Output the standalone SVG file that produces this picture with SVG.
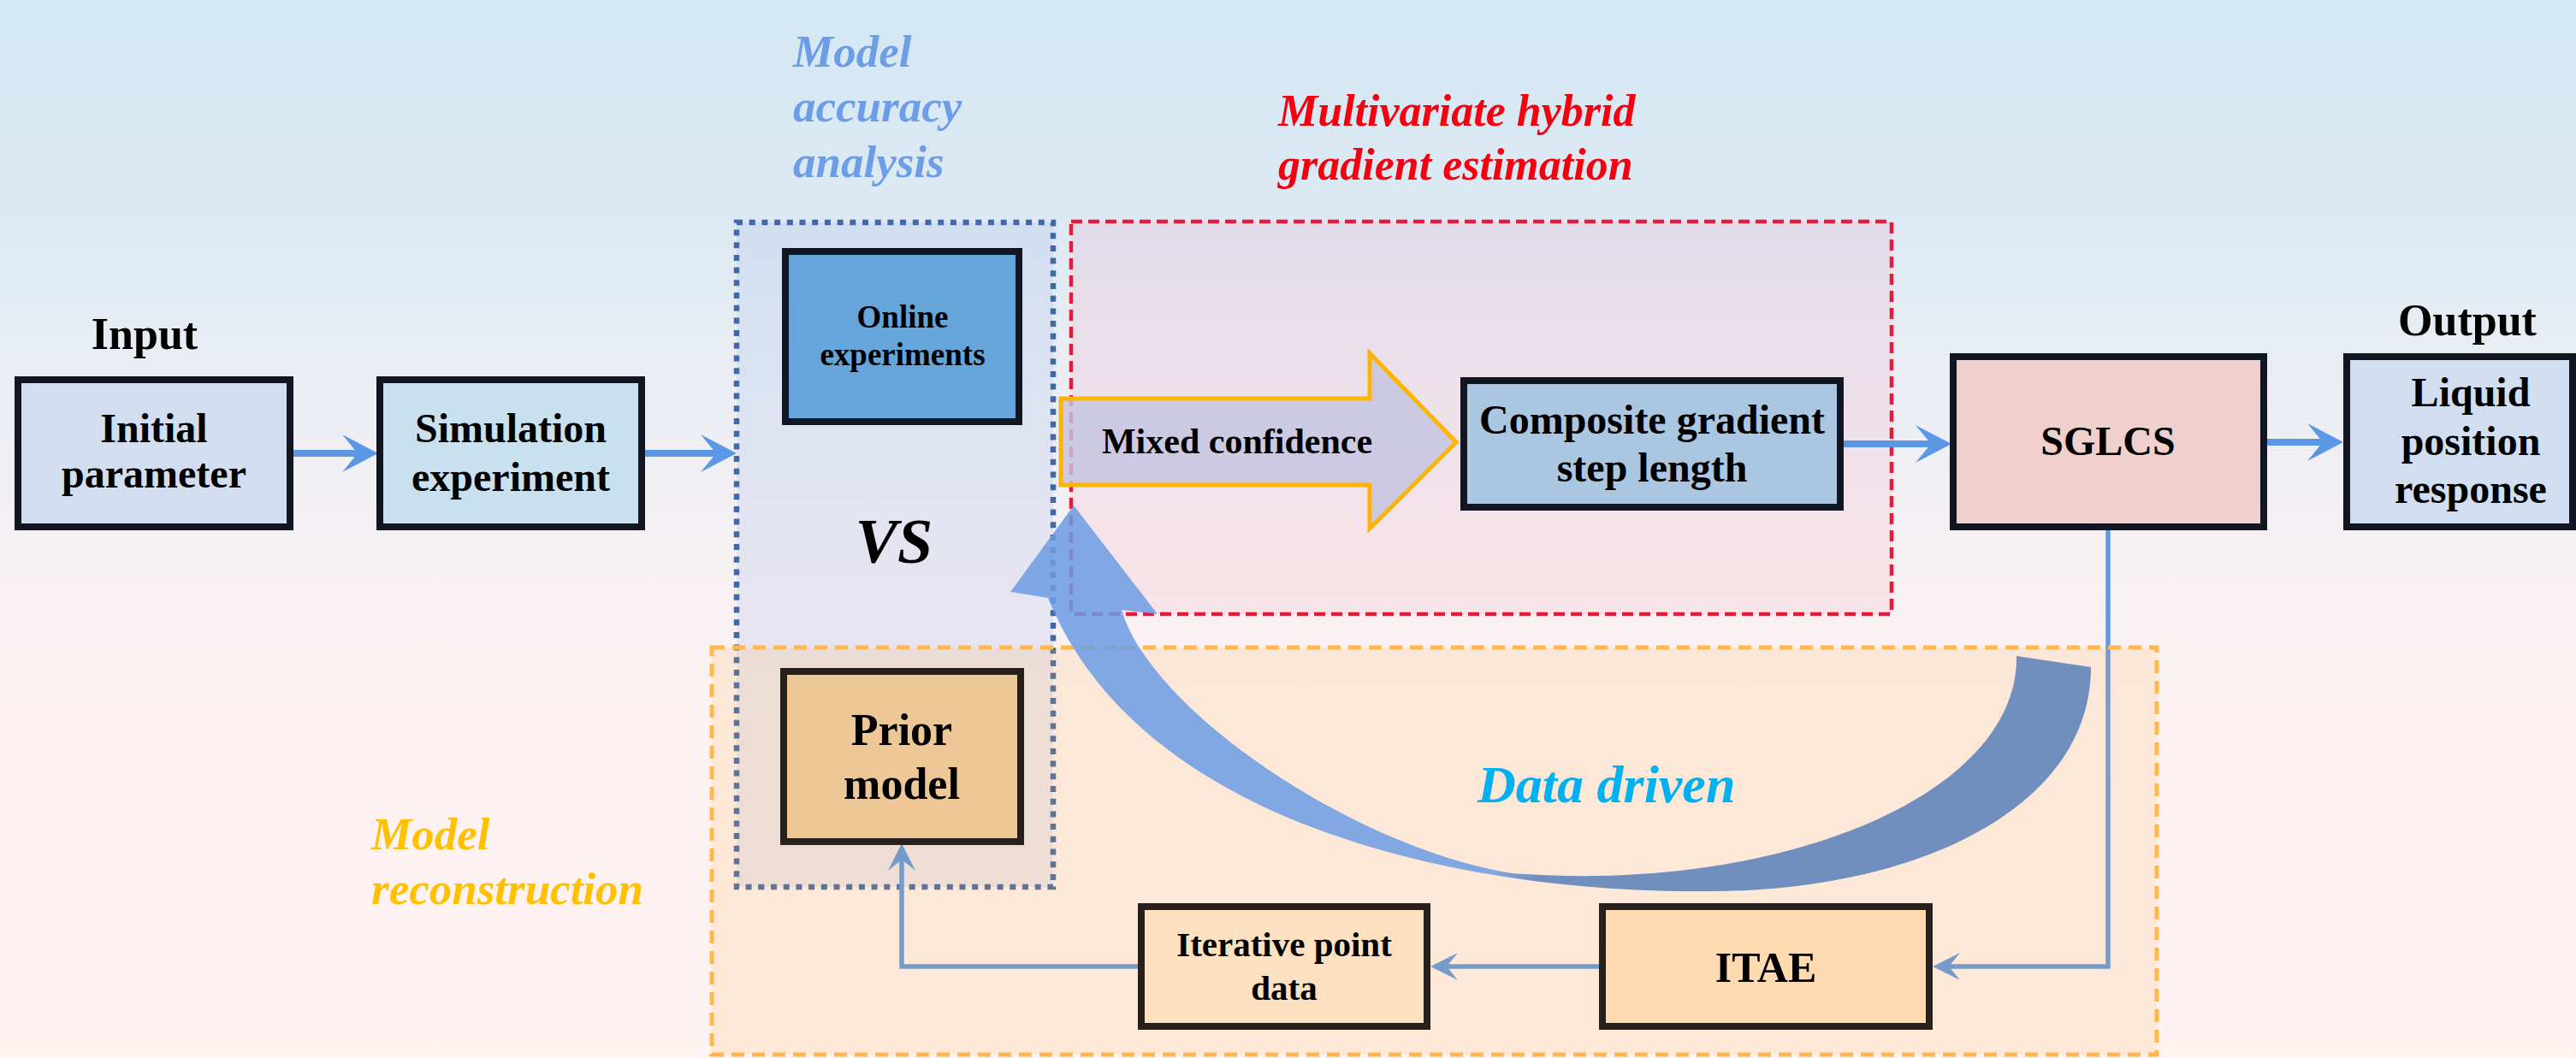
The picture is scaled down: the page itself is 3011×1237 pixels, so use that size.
<svg xmlns="http://www.w3.org/2000/svg" width="3011" height="1237" viewBox="0 0 3011 1237">
<defs>
<linearGradient id="bg" x1="0" y1="0" x2="0" y2="1">
<stop offset="0" stop-color="#d3e8f4"/>
<stop offset="0.2" stop-color="#dce9f2"/>
<stop offset="0.33" stop-color="#e8edf3"/>
<stop offset="0.5" stop-color="#f4f0f3"/>
<stop offset="0.7" stop-color="#fdf2f1"/>
<stop offset="1" stop-color="#fef3f1"/>
</linearGradient>
<linearGradient id="curveGrad" gradientUnits="userSpaceOnUse" x1="1745" y1="0" x2="1795" y2="0">
<stop offset="0" stop-color="#6c9ce4"/>
<stop offset="1" stop-color="#577fb9"/>
</linearGradient>
<marker id="bigHead" markerUnits="userSpaceOnUse" markerWidth="44" markerHeight="44" refX="20" refY="22" orient="auto" overflow="visible">
<path d="M0,0 L42,22 L0,44 L18,22 Z" fill="#5b97e5"/>
</marker>
<marker id="smallHead" markerUnits="userSpaceOnUse" markerWidth="34" markerHeight="34" refX="16" refY="16" orient="auto" overflow="visible">
<path d="M0,0 L32,16 L0,32 L13,16 Z" fill="#5d98e3"/>
</marker>
<style>
text { font-family: "Liberation Serif", "Times New Roman", serif; font-weight: bold; }
.lbl { text-anchor: middle; fill: #000; }
.it { font-style: italic; }
.box { stroke: #121622; stroke-width: 8; }
.boxb { stroke: #28201a; stroke-width: 8; }
.big { fill: none; stroke: #5b97e5; stroke-width: 8; marker-end: url(#bigHead); }
.thin { fill: none; stroke: #5d98e3; stroke-width: 5.5; marker-end: url(#smallHead); }
</style>
</defs>

<rect x="0" y="0" width="3011" height="1237" fill="url(#bg)"/>

<g id="region-model-accuracy">
<rect x="861" y="260" width="370" height="777" fill="rgb(150,170,230)" fill-opacity="0.17" stroke="#4169a8" stroke-width="6.5" stroke-dasharray="7 7.7"/>
</g>

<g id="region-gradient-estimation">
<rect x="1252" y="259" width="959" height="459" fill="rgb(255,100,130)" fill-opacity="0.09" stroke="#e41c3c" stroke-width="4.5" stroke-dasharray="13 7"/>
</g>

<g id="connectors">
<path class="big" d="M343,530 H420"/>
<path class="big" d="M754,530 H839"/>
<path class="big" d="M2155,519 H2259"/>
<path class="big" d="M2650,517 H2717"/>
<path class="thin" d="M2464,620 V1130 H2275"/>
<path class="thin" d="M1869,1130 H1688"/>
<path class="thin" d="M1330,1130 H1054 V1002"/>
</g>

<g id="region-model-reconstruction">
<rect x="832" y="757" width="1689" height="476" fill="rgb(255,175,70)" fill-opacity="0.15" stroke="#ffb84f" stroke-width="5" stroke-dasharray="15 9"/>
</g>

<g id="mixed-confidence">
<path d="M1240,466 L1601,466 L1601,413 L1702,517 L1601,618 L1601,567 L1240,567 Z" fill="#c4c3e1" fill-opacity="0.82" stroke="#ffb400" stroke-width="5" stroke-linejoin="miter"/>
<text class="lbl" x="1446" y="530" font-size="42">Mixed confidence</text>
</g>

<g id="initial-parameter">
<rect class="box" x="21" y="444" width="318" height="172" fill="#d3ddf0"/>
<text class="lbl" x="180" y="517" font-size="48">Initial</text>
<text class="lbl" x="180" y="570" font-size="48">parameter</text>
</g>

<g id="simulation-experiment">
<rect class="box" x="444" y="444" width="306" height="172" fill="#c9e1ef"/>
<text class="lbl" x="597" y="517" font-size="48">Simulation</text>
<text class="lbl" x="597" y="574" font-size="48">experiment</text>
</g>

<g id="online-experiments">
<rect class="box" x="918" y="294" width="273" height="199" fill="#65a5d9"/>
<text class="lbl" x="1055" y="383" font-size="37">Online</text>
<text class="lbl" x="1055" y="427" font-size="37">experiments</text>
</g>

<g id="composite-gradient">
<rect class="box" x="1711" y="445" width="440" height="148" fill="#abc6e0"/>
<text class="lbl" x="1931" y="507" font-size="48">Composite gradient</text>
<text class="lbl" x="1931" y="563" font-size="48">step length</text>
</g>

<g id="sglcs">
<rect class="box" x="2283" y="417" width="363" height="199" fill="#f0d0cc"/>
<text class="lbl" x="2464" y="532" font-size="48">SGLCS</text>
</g>

<g id="liquid-position-response">
<rect class="box" x="2743" y="417" width="264" height="199" fill="#d1def2"/>
<text class="lbl" x="2888" y="475" font-size="48">Liquid</text>
<text class="lbl" x="2888" y="532" font-size="48">position</text>
<text class="lbl" x="2888" y="588" font-size="48">response</text>
</g>

<g id="prior-model">
<rect class="boxb" x="916" y="785" width="277" height="199" fill="#edc795"/>
<text class="lbl" x="1054" y="871" font-size="52" fill="#231c14">Prior</text>
<text class="lbl" x="1054" y="934" font-size="52" fill="#231c14">model</text>
</g>

<g id="iterative-point-data">
<rect class="boxb" x="1334" y="1060" width="334" height="140" fill="#fde0c0"/>
<text class="lbl" x="1501" y="1118" font-size="41">Iterative point</text>
<text class="lbl" x="1501" y="1169" font-size="41">data</text>
</g>

<g id="itae">
<rect class="boxb" x="1873" y="1060" width="382" height="140" fill="#fedab1"/>
<text class="lbl" x="2064" y="1148" font-size="50">ITAE</text>
</g>

<g id="labels">
<text class="lbl" x="169" y="408" font-size="52">Input</text>
<text class="lbl" x="2884" y="392" font-size="52">Output</text>
<text class="it" x="927" y="78" font-size="53" fill="#6d9de6">Model</text>
<text class="it" x="927" y="142" font-size="53" fill="#6d9de6">accuracy</text>
<text class="it" x="927" y="207" font-size="53" fill="#6d9de6">analysis</text>
<text class="it" x="1494" y="147" font-size="52" fill="#f5000f">Multivariate hybrid</text>
<text class="it" x="1494" y="210" font-size="52" fill="#f5000f">gradient estimation</text>
<text class="it" x="434" y="993" font-size="53" fill="#ffc000">Model</text>
<text class="it" x="434" y="1057" font-size="53" fill="#ffc000">reconstruction</text>
<text class="it lbl" x="1045" y="658" font-size="74">VS</text>
<text class="it" x="1727" y="938" font-size="62" fill="#00b0f0">Data driven</text>
</g>

<g id="data-driven-arrow">
<path d="M2444,780 C2444,950 2230,1042 2000,1042 C1700,1045 1330,960 1225,699 L1181,692 L1255,591 L1353,718 L1311,713 C1345,830 1580,990 1767,1021 C2080,1045 2360,930 2357,767 Z" fill="url(#curveGrad)" fill-opacity="0.85"/>
</g>
</svg>
